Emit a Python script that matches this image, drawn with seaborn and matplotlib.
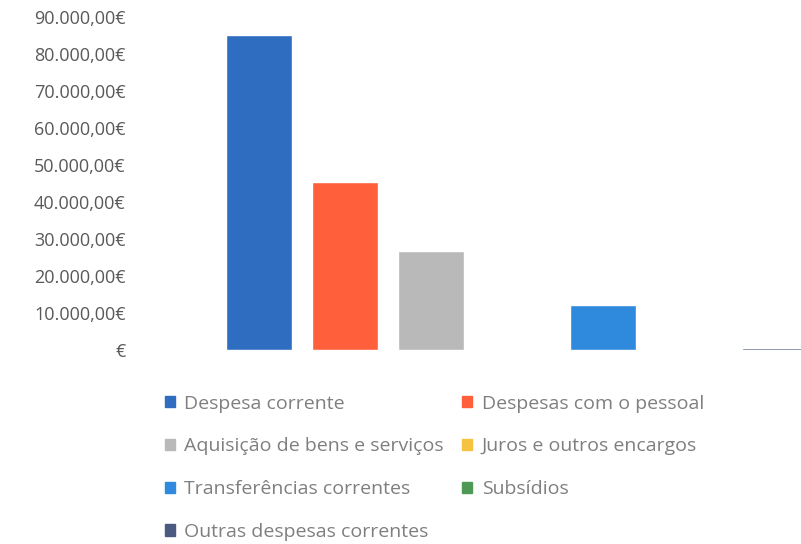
import numpy as np
import pandas as pd
import matplotlib
matplotlib.use("Agg")
import matplotlib.pyplot as plt
import matplotlib.patches as mpatches
import seaborn as sns

# dados
categorias = ["Despesa corrente", "Despesas com o pessoal", "Aquisição de bens e serviços",
              "Juros e outros encargos", "Transferências correntes", "Subsídios",
              "Outras despesas correntes"]
valores = [85100, 45300, 26800, 0, 12200, 0, 500]
cores = ["#2f6dc0", "#ff5f3a", "#b9b9b9", "#f5c242", "#2f8ade", "#4e9a55", "#4a5a80"]
yticks = list(range(0, 90001, 10000))

df = pd.DataFrame({"categoria": categorias, "valor": valores})

sns.set_theme(style="white")
plt.rcParams["font.family"] = ["Open Sans", "DejaVu Sans"]

fig = plt.figure(figsize=(8.01, 5.44), dpi=100)
ax = fig.add_axes([216 / 801, 194 / 544, 1 - 216 / 801, (350 - 17) / 544])

sns.barplot(data=df, x="categoria", y="valor", hue="categoria", palette=cores,
            dodge=False, width=0.77, legend=False, ax=ax, saturation=1)

def fmt_euro(v):
    if v == 0:
        return "€"
    s = f"{v:,.2f}".replace(",", "X").replace(".", ",").replace("X", ".")
    return s + "€"

ax.set_ylim(0, 90000)
ax.set_yticks(yticks)
ax.set_yticklabels([fmt_euro(v) for v in yticks], color="#595959", fontsize=13)
ax.tick_params(axis="y", pad=65, length=0)
ax.tick_params(axis="x", length=0)
ax.set_xticklabels([])
ax.set_xlabel("")
ax.set_ylabel("")
ax.set_xlim(-0.5, 6.30)
for s in ax.spines.values():
    s.set_visible(False)

# legenda em duas colunas, preenchida por linhas
ordem = [0, 2, 4, 6, 1, 3, 5]
handles = [mpatches.Patch(color=cores[i], label=categorias[i]) for i in ordem]
fig.legend(handles=handles, loc="upper left", bbox_to_anchor=(157 / 801, 1 - 387 / 544),
           ncol=2, frameon=False, fontsize=14, labelcolor="#7f7f7f",
           handlelength=0.5, handleheight=0.5, handletextpad=0.5,
           columnspacing=0.95, labelspacing=1.27, borderaxespad=0)

fig.savefig("out.png", dpi=100)
